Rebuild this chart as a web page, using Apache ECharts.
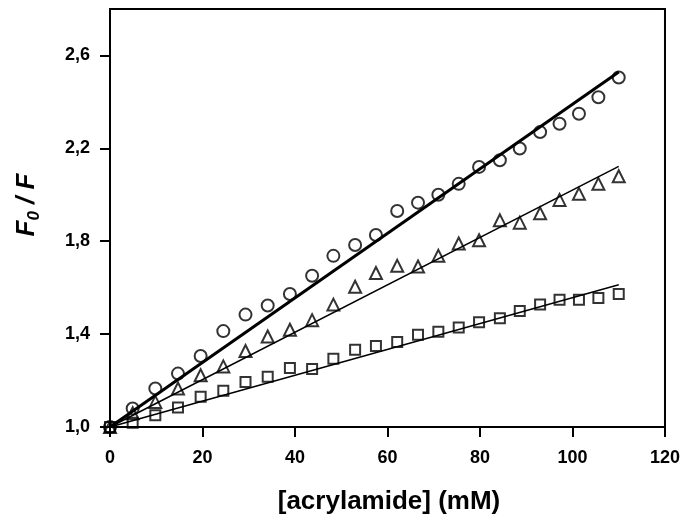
<!DOCTYPE html>
<html>
<head>
<meta charset="utf-8">
<script src="https://cdn.jsdelivr.net/npm/echarts@6/dist/echarts.min.js"></script>
<style>
  html, body { margin: 0; padding: 0; background: #fff; }
  #chart { width: 683px; height: 524px; }
</style>
</head>
<body>
<div id="chart"></div>
<script>
// Acrylamide concentration (mM) for each titration step
const acrylamide = [0, 4.9, 9.8, 14.7, 19.6, 24.5, 29.3, 34.1, 38.9, 43.7, 48.3, 53.0,
  57.5, 62.1, 66.6, 71.0, 75.4, 79.8, 84.3, 88.6, 93.0, 97.2, 101.4, 105.6, 110.0];

// F0/F ratios for the three samples
const f0fCircle = [1.00, 1.08, 1.166, 1.23, 1.306, 1.413, 1.484, 1.523, 1.573, 1.651, 1.737, 1.784,
  1.827, 1.93, 1.966, 2.00, 2.047, 2.12, 2.149, 2.199, 2.27, 2.306, 2.349, 2.42, 2.505];
const f0fTriangle = [1.00, 1.059, 1.108, 1.166, 1.223, 1.261, 1.327, 1.39, 1.419, 1.46, 1.527, 1.604,
  1.663, 1.694, 1.691, 1.737, 1.79, 1.804, 1.89, 1.88, 1.92, 1.978, 2.004, 2.047, 2.08];
const f0fSquare = [1.00, 1.018, 1.051, 1.084, 1.13, 1.156, 1.194, 1.216, 1.254, 1.25, 1.294, 1.333,
  1.349, 1.366, 1.397, 1.41, 1.429, 1.451, 1.468, 1.50, 1.528, 1.548, 1.548, 1.556, 1.573];

// Stern-Volmer constants (per mM) of the linear fits
const ksvCircle = 0.0139;
const ksvTriangle = 0.0102;
const ksvSquare = 0.00557;

// Axis ticks
const xTicks = [0, 20, 40, 60, 80, 100, 120];
const yTicks = [1.0, 1.4, 1.8, 2.2, 2.6];

const pairs = ys => acrylamide.map((x, i) => [x, ys[i]]);
const fitLine = k => {
  const x0 = acrylamide[0], x1 = acrylamide[acrylamide.length - 1];
  return [[x0, 1 + k * x0], [x1, 1 + k * x1]];
};

const family = 'Liberation Sans, Arial, sans-serif';
const labelFont = { fontFamily: family, fontWeight: 'bold', fontSize: 18, color: '#000' };
const marker = (symbol, size) => ({
  type: 'scatter', symbol: symbol, symbolSize: size,
  itemStyle: { color: 'rgba(0,0,0,0)', borderColor: '#000', borderWidth: 2 },
  z: 3, silent: true
});
const fit = width => ({
  type: 'line', showSymbol: false, symbol: 'none',
  lineStyle: { color: '#000', width: width }, z: 2, silent: true
});

const chart = echarts.init(document.getElementById('chart'), null, { renderer: 'canvas' });
chart.setOption({
  animation: false,
  backgroundColor: '#fff',
  grid: { left: 110, right: 17, top: 9, bottom: 97, show: true, borderColor: '#000', borderWidth: 2, backgroundColor: 'transparent' },
  xAxis: {
    type: 'value', min: 0, max: 120,
    axisLine: { show: true, lineStyle: { color: '#000', width: 2 } },
    axisTick: { show: true, inside: false, length: 10, lineStyle: { color: '#000', width: 2 }, customValues: xTicks },
    axisLabel: Object.assign({ margin: 22, customValues: xTicks, formatter: v => String(v) }, labelFont),
    splitLine: { show: false }
  },
  yAxis: {
    type: 'value', min: 1.0, max: 2.8,
    axisLine: { show: true, lineStyle: { color: '#000', width: 2 } },
    axisTick: { show: true, inside: false, length: 10, lineStyle: { color: '#000', width: 2 }, customValues: yTicks },
    axisLabel: Object.assign({ margin: 20, customValues: yTicks, formatter: v => v.toFixed(1).replace('.', ',') }, labelFont),
    splitLine: { show: false }
  },
  graphic: [
    {
      type: 'text', x: 389, y: 502,
      style: {
        text: '[acrylamide] (mM)', fill: '#000',
        font: 'bold 26px "Liberation Sans", Arial, sans-serif',
        textAlign: 'center', textVerticalAlign: 'middle'
      }
    },
    {
      type: 'text', x: 27, y: 205, rotation: Math.PI / 2,
      style: {
        text: '{a|F}{b|0}{a| / F}', fill: '#000',
        textAlign: 'center', textVerticalAlign: 'middle',
        rich: {
          a: { fontFamily: family, fontWeight: 'bold', fontStyle: 'italic', fontSize: 26, lineHeight: 32, verticalAlign: 'middle' },
          b: { fontFamily: family, fontWeight: 'bold', fontStyle: 'italic', fontSize: 17, lineHeight: 32, verticalAlign: 'bottom' }
        }
      }
    }
  ],
  series: [
    Object.assign(fit(3), { data: fitLine(ksvCircle) }),
    Object.assign(fit(1.5), { data: fitLine(ksvTriangle) }),
    Object.assign(fit(1.5), { data: fitLine(ksvSquare) }),
    Object.assign(marker('circle', 12), { data: pairs(f0fCircle) }),
    Object.assign(marker('triangle', 12), { data: pairs(f0fTriangle) }),
    Object.assign(marker('rect', 10), { data: pairs(f0fSquare) })
  ]
});
</script>
</body>
</html>
